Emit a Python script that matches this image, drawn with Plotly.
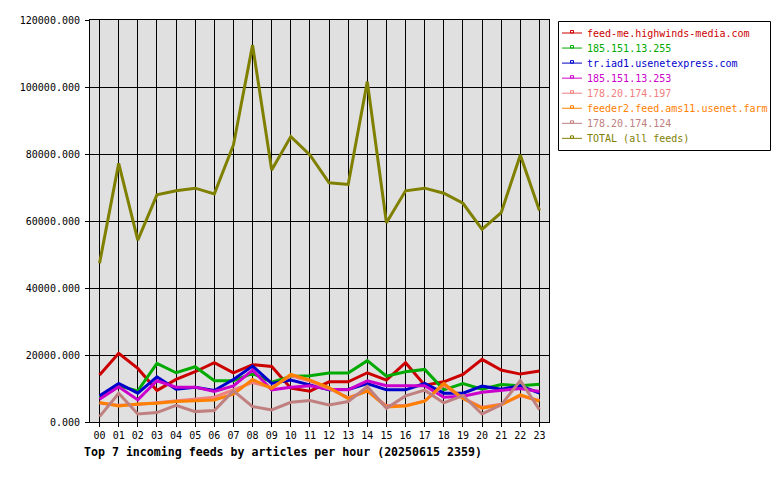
import plotly.graph_objects as go

hours = ["%02d" % h for h in range(24)]

feed_me = [14000, 20500, 16000, 9400, 12700, 15000, 17700, 14700, 17100, 16600, 10100, 9200,
           12000, 12000, 14700, 12500, 17700, 11000, 12000, 14200, 18700, 15500, 14300, 15200]
n185_255 = [7200, 10800, 9300, 17500, 14700, 16500, 12300, 12300, 14500, 11900, 13600, 13800,
            14600, 14600, 18300, 13700, 15000, 15700, 9600, 11500, 9800, 11200, 10800, 11300]
tr_iad1 = [7800, 11500, 8600, 13500, 9800, 10400, 9400, 12700, 16700, 11500, 12500, 11000,
           9600, 9700, 11500, 9600, 9600, 11500, 8600, 8600, 10700, 9800, 10800, 8600]
n185_253 = [6800, 10500, 6600, 12300, 10400, 10400, 9100, 10800, 15500, 9600, 10400, 10800,
            9800, 9600, 12300, 10800, 10800, 10800, 7400, 7700, 8900, 9500, 10000, 9100]
n178_197 = [5600, 5000, 5200, 5800, 6300, 6800, 7400, 9600, 11800, 10300, 13800, 12200,
            10000, 7300, 9300, 4900, 4900, 6300, 11000, 7100, 4400, 5300, 7800, 6400]
feeder2 = [5800, 4800, 5400, 5600, 6100, 6400, 6600, 8300, 12700, 10000, 14200, 12500,
           10300, 7000, 9300, 4500, 4800, 6200, 11500, 7000, 4100, 5100, 8100, 6200]
n178_124 = [1600, 8600, 2400, 2800, 5000, 3100, 3400, 9300, 4600, 3600, 5900, 6400,
            5100, 6100, 10600, 4100, 7800, 9500, 5700, 7900, 2400, 5100, 12400, 3700]
total = [47400, 77200, 54300, 67800, 69000, 69800, 68100, 82700, 112500, 75200, 85200, 79700,
         71400, 70900, 101600, 59500, 69000, 69800, 68300, 65300, 57500, 62500, 79700, 63100]

names = ["feed-me.highwinds-media.com", "185.151.13.255", "tr.iad1.usenetexpress.com",
         "185.151.13.253", "178.20.174.197", "feeder2.feed.ams11.usenet.farm",
         "178.20.174.124", "TOTAL (all feeds)"]
series = [feed_me, n185_255, tr_iad1, n185_253, n178_197, feeder2, n178_124, total]
colors = ["#CC0000", "#00AA00", "#0000CC", "#CC00CC", "#F08080", "#FF8000", "#C08080", "#808000"]
title_text = "Top 7 incoming feeds by articles per hour (20250615 2359)"

W, H = 780, 480
L, R, T, B = 90, 549, 20, 422
FONT = "DejaVu Sans Mono"


def px(x):
    return (x - L) / (R - L)


def py(y):
    return 1 - (y - T) / (B - T)


fig = go.Figure()
xs = list(range(24))
for name, vals, col in zip(names, series, colors):
    fig.add_trace(go.Scatter(x=xs, y=vals, mode="lines", name=name,
                             line=dict(color=col, width=3), showlegend=False,
                             hoverinfo="skip"))

shapes = []
annotations = []
# legend box
shapes.append(dict(type="rect", xref="paper", yref="paper",
                   x0=px(558.5), x1=px(770.5), y0=py(150.5), y1=py(21.5),
                   line=dict(color="black", width=1), fillcolor="white", layer="above"))
for i, (name, col) in enumerate(zip(names, colors)):
    yy = 33 + 15.05 * i
    shapes.append(dict(type="line", xref="paper", yref="paper",
                       x0=px(562), x1=px(582), y0=py(yy), y1=py(yy),
                       line=dict(color=col, width=1), layer="above"))
    shapes.append(dict(type="rect", xref="paper", yref="paper",
                       x0=px(570.5), x1=px(573.5), y0=py(yy), y1=py(yy - 2.5),
                       line=dict(color=col, width=1), fillcolor="rgba(0,0,0,0)", layer="above"))
    annotations.append(dict(xref="paper", yref="paper", x=px(585), y=py(yy),
                            xanchor="left", yanchor="middle", text=name, showarrow=False,
                            font=dict(family=FONT, size=10, color=col)))

annotations.append(dict(xref="paper", yref="paper", x=px(82), y=py(452),
                        xanchor="left", yanchor="middle", text="<b>" + title_text + "</b>",
                        showarrow=False, font=dict(family=FONT, size=11.6, color="black")))

fig.update_layout(
    width=W, height=H,
    margin=dict(l=L, r=W - R, t=T, b=H - B, pad=0),
    paper_bgcolor="white", plot_bgcolor="#E0E0E0",
    shapes=shapes, annotations=annotations,
    showlegend=False,
    font=dict(family=FONT, size=10, color="black"),
    xaxis=dict(range=[-0.5, 23.5], tickmode="array", tickvals=xs, ticktext=hours,
               showgrid=True, gridcolor="black", gridwidth=1, zeroline=False,
               showline=True, linecolor="black", linewidth=1, mirror=True,
               ticks="outside", ticklen=4, tickcolor="black",
               tickfont=dict(family=FONT, size=10, color="black")),
    yaxis=dict(range=[0, 120000], tickmode="linear", tick0=0, dtick=20000,
               tickformat=".3f", showgrid=True, gridcolor="black", gridwidth=1,
               zeroline=False, showline=True, linecolor="black", linewidth=1, mirror=True,
               ticks="outside", ticklen=4, tickcolor="black", ticklabelstandoff=3,
               tickfont=dict(family=FONT, size=10, color="black")),
)

fig.write_html("out.html")
